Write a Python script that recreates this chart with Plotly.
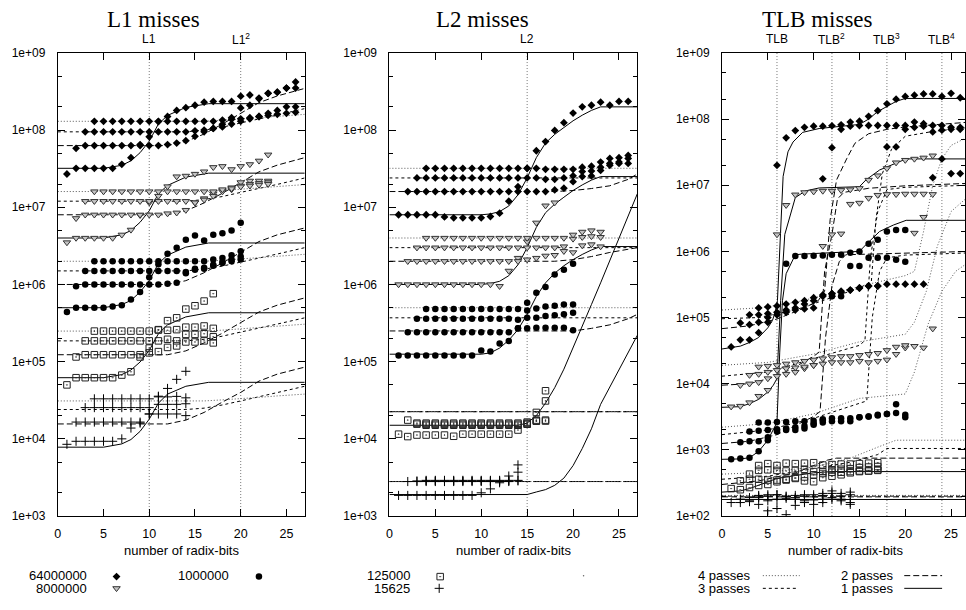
import plotly.graph_objects as go

W, H = 966, 610

SIZE_LABELS = ["64000000", "8000000", "1000000", "125000", "15625"]
PASS_LABELS = ["4 passes", "3 passes", "2 passes", "1 passes"]
X_TICKS = [0, 5, 10, 15, 20, 25]
PANEL_TITLES = ["L1 misses", "L2 misses", "TLB misses"]
X_TITLE = "number of radix-bits"

# ============ L1 misses: measured points (list per pass; pass p starts at x = p) ============
L1_64M = [
    [2.7e7, 3.2e7, 3.2e7, 3.2e7, 3.2e7, 3.2e7, 3.6e7, 4.4e7, 6.5e7, 8.2e7, 1.29e8, 1.5e8, 1.8e8, 1.95e8, 2.1e8, 2.3e8, 2.35e8, 2.35e8, 2.35e8, 2.75e8, 2.85e8, 2.55e8, 3.0e8, 3.1e8, 3.5e8, 4.2e8],
    [5.8e7, 6.3e7, 6.3e7, 6.3e7, 6.3e7, 6.3e7, 6.3e7, 6.3e7, 6.3e7, 6.3e7, 6.5e7, 6.8e7, 7.3e7, 8.3e7, 9.5e7, 1.05e8, 1.19e8, 1.45e8, 1.94e8, 2.1e8, 2.6e8, 3.0e8, 3.1e8, 3.5e8, 3.5e8],
    [9.5e7, 9.5e7, 9.5e7, 9.5e7, 9.5e7, 9.5e7, 9.5e7, 9.5e7, 9.5e7, 9.5e7, 9.5e7, 9.5e7, 9.8e7, 1.0e8, 1.05e8, 1.1e8, 1.2e8, 1.3e8, 1.4e8, 1.5e8, 1.65e8, 1.8e8, 2.0e8, 2.0e8],
    [1.3e8, 1.3e8, 1.3e8, 1.3e8, 1.3e8, 1.3e8, 1.3e8, 1.3e8, 1.3e8, 1.3e8, 1.3e8, 1.3e8, 1.3e8, 1.3e8, 1.35e8, 1.38e8, 1.4e8, 1.45e8, 1.5e8, 1.55e8, 1.6e8, 1.65e8, 1.7e8],
]
L1_8M = [
    [3.5e6, 4.0e6, 4.0e6, 4.0e6, 4.0e6, 4.0e6, 4.4e6, 5.1e6, 7.9e6, 1.15e7, 1.4e7, 1.86e7, 2.5e7, 2.55e7, 2.7e7, 2.9e7, 3.3e7, 3.4e7, 3.1e7, 3.4e7, 3.6e7, 4.0e7, 4.8e7],
    [7.2e6, 8.0e6, 8.0e6, 8.0e6, 8.0e6, 8.0e6, 8.0e6, 8.0e6, 8.0e6, 8.0e6, 8.3e6, 8.5e6, 9.2e6, 1.15e7, 1.3e7, 1.5e7, 1.65e7, 1.8e7, 2.1e7, 2.2e7, 2.2e7, 2.2e7],
    [1.2e7, 1.2e7, 1.2e7, 1.2e7, 1.2e7, 1.2e7, 1.2e7, 1.2e7, 1.2e7, 1.2e7, 1.2e7, 1.2e7, 1.15e7, 1.25e7, 1.4e7, 1.6e7, 1.7e7, 1.9e7, 2.0e7, 2.05e7, 2.1e7],
    [1.6e7, 1.6e7, 1.6e7, 1.6e7, 1.6e7, 1.6e7, 1.6e7, 1.6e7, 1.6e7, 1.6e7, 1.6e7, 1.6e7, 1.6e7, 1.6e7, 1.7e7, 1.75e7, 1.85e7, 1.9e7, 1.95e7, 2.0e7],
]
L1_1M = [
    [4.4e5, 5.0e5, 5.0e5, 5.0e5, 5.0e5, 5.2e5, 5.4e5, 6.4e5, 8.0e5, 1.24e6, 1.83e6, 2.5e6, 3.0e6, 3.8e6, 4.3e6, 3.7e6, 4.4e6, 4.6e6, 5.0e6, 6.3e6],
    [9.5e5, 1.0e6, 1.0e6, 1.0e6, 1.0e6, 1.0e6, 1.0e6, 1.0e6, 1.0e6, 1.0e6, 1.02e6, 1.05e6, 1.4e6, 1.55e6, 1.6e6, 1.75e6, 1.95e6, 2.0e6, 2.1e6],
    [1.5e6, 1.5e6, 1.5e6, 1.5e6, 1.5e6, 1.5e6, 1.5e6, 1.5e6, 1.5e6, 1.5e6, 1.5e6, 1.45e6, 1.6e6, 1.65e6, 1.8e6, 1.9e6, 2.1e6, 2.3e6],
    [2.0e6, 2.0e6, 2.0e6, 2.0e6, 2.0e6, 2.0e6, 2.0e6, 2.0e6, 2.0e6, 2.0e6, 2.0e6, 2.0e6, 2.0e6, 2.1e6, 2.2e6, 2.4e6, 2.7e6],
]
L1_125K = [
    [5.0e4, 6.2e4, 6.2e4, 6.2e4, 6.2e4, 6.2e4, 6.7e4, 7.4e4, 1.15e5, 1.5e5, 2.57e5, 3.4e5, 3.7e5, 4.8e5, 5.3e5, 6.1e5, 7.6e5],
    [1.15e5, 1.23e5, 1.23e5, 1.23e5, 1.23e5, 1.23e5, 1.23e5, 1.23e5, 1.3e5, 1.35e5, 1.53e5, 1.6e5, 1.8e5, 1.8e5, 1.86e5, 1.75e5],
    [1.86e5, 1.86e5, 1.86e5, 1.86e5, 1.86e5, 1.86e5, 1.86e5, 1.86e5, 1.86e5, 1.95e5, 1.86e5, 2.26e5, 2.26e5, 2.3e5, 2.1e5],
    [2.49e5, 2.49e5, 2.49e5, 2.49e5, 2.49e5, 2.49e5, 2.49e5, 2.6e5, 2.55e5, 2.6e5, 2.8e5, 2.8e5, 2.9e5, 2.7e5],
]
L1_15625 = [
    [8.5e3, 9.3e3, 9.3e3, 9.3e3, 9.3e3, 9.3e3, 1.0e4, 1.38e4, 1.6e4, 2.1e4, 3.57e4, 4.5e4, 5.9e4, 7.5e4],
    [1.65e4, 1.65e4, 1.65e4, 1.65e4, 1.65e4, 1.65e4, 1.65e4, 1.65e4, 2.1e4, 2.1e4, 2.1e4, 2.1e4, 2.0e4],
    [2.54e4, 2.54e4, 2.54e4, 2.54e4, 2.54e4, 2.54e4, 2.54e4, 2.54e4, 2.8e4, 2.8e4, 2.8e4, 2.85e4],
    [3.3e4, 3.3e4, 3.3e4, 3.3e4, 3.3e4, 3.3e4, 3.3e4, 3.5e4, 3.5e4, 3.55e4, 3.4e4],
]
# ---- L1 model curves (x knots per pass, y per size) ----
L1_MX = [
    [0, 5, 7, 8, 9, 10, 11, 12, 14, 16.5, 27],
    [0, 12, 14, 16, 18, 20, 22, 24, 27],
    [0, 14, 16, 18, 20, 22, 24, 27],
    [0, 16, 18, 20, 22, 24, 27],
]
L1_M64M = [
    [3.2e7, 3.2e7, 3.5e7, 4.0e7, 5.1e7, 7.2e7, 1.2e8, 1.55e8, 1.97e8, 2.2e8, 2.2e8],
    [6.3e7, 6.3e7, 7.1e7, 8.9e7, 1.2e8, 1.64e8, 2.27e8, 2.77e8, 3.47e8],
    [9.5e7, 9.5e7, 1.0e8, 1.09e8, 1.24e8, 1.38e8, 1.57e8, 1.9e8],
    [1.3e8, 1.3e8, 1.34e8, 1.39e8, 1.46e8, 1.52e8, 1.6e8],
]
L1_M8M = [
    [4.0e6, 4.0e6, 4.4e6, 5.0e6, 6.4e6, 9.0e6, 1.5e7, 1.92e7, 2.46e7, 2.77e7, 2.77e7],
    [8.0e6, 8.0e6, 9.0e6, 1.14e7, 1.52e7, 2.08e7, 2.88e7, 3.52e7, 4.4e7],
    [1.2e7, 1.2e7, 1.26e7, 1.38e7, 1.56e7, 1.74e7, 1.98e7, 2.4e7],
    [1.6e7, 1.6e7, 1.65e7, 1.71e7, 1.79e7, 1.87e7, 1.97e7],
]
L1_M1M = [
    [5.0e5, 5.0e5, 5.5e5, 6.2e5, 8.0e5, 1.12e6, 1.87e6, 2.4e6, 3.05e6, 3.45e6, 3.45e6],
    [1.0e6, 1.0e6, 1.12e6, 1.42e6, 1.9e6, 2.6e6, 3.6e6, 4.4e6, 5.4e6],
    [1.5e6, 1.5e6, 1.58e6, 1.73e6, 1.95e6, 2.18e6, 2.48e6, 3.0e6],
    [2.0e6, 2.0e6, 2.06e6, 2.14e6, 2.24e6, 2.34e6, 2.46e6],
]
L1_M125K = [
    [6.2e4, 6.2e4, 6.8e4, 7.8e4, 9.9e4, 1.4e5, 2.3e5, 3.0e5, 3.8e5, 4.3e5, 4.3e5],
    [1.23e5, 1.23e5, 1.38e5, 1.75e5, 2.34e5, 3.2e5, 4.4e5, 5.4e5, 6.7e5],
    [1.86e5, 1.86e5, 1.95e5, 2.14e5, 2.42e5, 2.7e5, 3.07e5, 3.7e5],
    [2.49e5, 2.49e5, 2.56e5, 2.66e5, 2.79e5, 2.91e5, 3.06e5],
]
L1_M15625 = [
    [7.8e3, 7.8e3, 8.6e3, 9.8e3, 1.25e4, 1.8e4, 2.9e4, 3.8e4, 4.8e4, 5.4e4, 5.4e4],
    [1.56e4, 1.56e4, 1.75e4, 2.2e4, 3.0e4, 4.0e4, 5.6e4, 6.9e4, 8.5e4],
    [2.4e4, 2.4e4, 2.5e4, 2.75e4, 3.1e4, 3.5e4, 4.0e4, 4.8e4],
    [3.1e4, 3.1e4, 3.2e4, 3.3e4, 3.45e4, 3.6e4, 3.8e4],
]

# ============ L2 misses ============
L2_64M = [
    [8e6, 8e6, 8e6, 8e6, 8e6, 7.5e6, 7.3e6, 7.3e6, 7.3e6, 7.3e6, 7.6e6, 8.4e6, 1.2e7, 1.85e7, 3.2e7, 5.4e7, 7.1e7, 9.9e7, 1.25e8, 1.66e8, 2.0e8, 2.1e8, 2.3e8, 2.1e8, 2.35e8, 2.35e8],
    [1.6e7, 1.6e7, 1.6e7, 1.6e7, 1.6e7, 1.6e7, 1.6e7, 1.6e7, 1.6e7, 1.6e7, 1.6e7, 1.6e7, 1.6e7, 1.6e7, 1.6e7, 1.6e7, 1.68e7, 1.77e7, 2.15e7, 2.5e7, 2.55e7, 3.0e7, 3.5e7, 3.7e7, 3.7e7],
    [2.4e7, 2.4e7, 2.4e7, 2.4e7, 2.4e7, 2.4e7, 2.4e7, 2.4e7, 2.4e7, 2.4e7, 2.4e7, 2.4e7, 2.4e7, 2.4e7, 2.3e7, 2.3e7, 2.4e7, 2.56e7, 2.9e7, 2.95e7, 3.3e7, 3.7e7, 3.85e7, 4.3e7],
    [3.2e7, 3.2e7, 3.2e7, 3.2e7, 3.2e7, 3.2e7, 3.2e7, 3.2e7, 3.2e7, 3.2e7, 3.2e7, 3.2e7, 3.2e7, 3.1e7, 3.1e7, 3.1e7, 3.1e7, 3.3e7, 3.4e7, 3.85e7, 4.3e7, 4.4e7, 4.7e7],
]
L2_8M = [
    [1e6, 1e6, 1e6, 1e6, 1e6, 1e6, 1e6, 1e6, 1e6, 1e6, 1e6, 9.5e5, 1.5e6, 2.2e6, 3.6e6, 6.3e6, 1.05e7, 1.15e7],
    [2e6, 2e6, 2e6, 2e6, 2e6, 2e6, 2e6, 2e6, 2e6, 2e6, 2e6, 2e6, 2.0e6, 2.1e6, 2.2e6, 2.35e6, 2.4e6, 2.7e6, 2.6e6, 3.2e6, 3.3e6, 3.1e6],
    [3e6, 3e6, 3e6, 3e6, 3e6, 3e6, 3e6, 3e6, 3e6, 3e6, 3e6, 3e6, 3e6, 3.0e6, 3.0e6, 3.0e6, 3.1e6, 3.9e6, 4.1e6, 4.2e6, 4.1e6],
    [4e6, 4e6, 4e6, 4e6, 4e6, 4e6, 4e6, 4e6, 4e6, 4e6, 4e6, 4e6, 4e6, 4.0e6, 4.0e6, 4.0e6, 4.4e6, 4.8e6, 5.0e6, 4.8e6],
]
L2_1M = [
    [1.2e5, 1.2e5, 1.2e5, 1.2e5, 1.2e5, 1.2e5, 1.2e5, 1.2e5, 1.2e5, 1.4e5, 1.35e5, 1.72e5, 1.85e5, 2.7e5, 4.6e5, 7.8e5, 9.3e5, 1.35e6, 1.55e6, 1.85e6],
    [2.4e5, 2.4e5, 2.4e5, 2.4e5, 2.4e5, 2.4e5, 2.4e5, 2.4e5, 2.4e5, 2.4e5, 2.4e5, 2.4e5, 2.7e5, 2.7e5, 2.75e5, 2.75e5, 2.75e5, 2.75e5, 2.55e5],
    [3.6e5, 3.6e5, 3.6e5, 3.6e5, 3.6e5, 3.6e5, 3.6e5, 3.6e5, 3.6e5, 3.6e5, 3.6e5, 3.5e5, 3.7e5, 3.7e5, 3.9e5, 4.0e5, 4.1e5, 4.3e5],
    [4.8e5, 4.8e5, 4.8e5, 4.8e5, 4.8e5, 4.8e5, 4.8e5, 4.8e5, 4.8e5, 4.8e5, 4.8e5, 5.8e5, 4.9e5, 5.2e5, 5.3e5, 5.5e5, 5.5e5],
]
L2_125K = [
    [1.15e4, 1.07e4, 1.12e4, 1.12e4, 1.12e4, 1.12e4, 1.08e4, 1.15e4, 1.15e4, 1.15e4, 1.15e4, 1.15e4, 1.15e4, 1.3e4, 1.55e4, 2.2e4, 4.2e4],
    [1.75e4, 1.6e4, 1.6e4, 1.6e4, 1.6e4, 1.6e4, 1.6e4, 1.6e4, 1.6e4, 1.6e4, 1.6e4, 1.6e4, 1.6e4, 1.65e4, 1.75e4, 3.1e4],
    [1.55e4, 1.55e4, 1.55e4, 1.55e4, 1.55e4, 1.55e4, 1.55e4, 1.55e4, 1.55e4, 1.55e4, 1.55e4, 1.55e4, 1.6e4, 1.7e4, 1.75e4],
    [1.5e4, 1.5e4, 1.5e4, 1.5e4, 1.5e4, 1.5e4, 1.5e4, 1.5e4, 1.5e4, 1.5e4, 1.5e4, 1.55e4, 1.7e4, 1.7e4],
]
L2_15625 = [
    [1.85e3, 1.85e3, 1.85e3, 1.85e3, 1.85e3, 1.85e3, 1.85e3, 1.85e3, 1.85e3, 2.0e3, 2.25e3, 2.7e3, 3.3e3, 4.6e3],
    [2.8e3, 2.8e3, 2.8e3, 2.8e3, 2.8e3, 2.8e3, 2.8e3, 2.8e3, 2.8e3, 2.8e3, 2.8e3, 2.8e3, 3.7e3],
    [2.85e3, 2.85e3, 2.85e3, 2.85e3, 2.85e3, 2.85e3, 2.85e3, 2.85e3, 2.85e3, 2.85e3, 2.85e3, 2.85e3],
    [2.9e3, 2.9e3, 2.9e3, 2.9e3, 2.9e3, 2.9e3, 2.9e3, 2.9e3, 2.9e3, 2.9e3, 2.9e3],
]
L2_MX = [
    [0, 10, 11, 12, 13, 14, 15, 16, 17, 18, 19, 20, 21, 22, 23, 27],
    [0, 16, 18, 20, 22, 24, 26, 27],
    [0, 27],
    [0, 27],
]
L2_M64M = [
    [8e6, 8e6, 8.2e6, 8.8e6, 1.04e7, 1.45e7, 2.4e7, 4.4e7, 6.8e7, 8.8e7, 1.08e8, 1.32e8, 1.56e8, 1.8e8, 2.0e8, 2.0e8],
    [1.6e7, 1.6e7, 1.6e7, 1.65e7, 1.75e7, 1.9e7, 2.3e7, 2.7e7],
    [2.4e7, 2.4e7],
    [3.2e7, 3.2e7],
]
L2_M8M = [
    [1e6, 1e6, 1.03e6, 1.1e6, 1.3e6, 1.8e6, 3.0e6, 5.5e6, 8.5e6, 1.1e7, 1.35e7, 1.65e7, 1.95e7, 2.25e7, 2.5e7, 2.5e7],
    [2.0e6, 2.0e6, 2.0e6, 2.1e6, 2.3e6, 2.6e6, 2.85e6, 3.0e6],
    [3.0e6, 3.0e6],
    [4.0e6, 4.0e6],
]
L2_M1M = [
    [1.25e5, 1.25e5, 1.3e5, 1.5e5, 1.9e5, 2.6e5, 4.1e5, 7.0e5, 1.05e6, 1.4e6, 1.75e6, 2.1e6, 2.45e6, 2.8e6, 3.1e6, 3.1e6],
    [2.5e5, 2.5e5, 2.5e5, 2.5e5, 2.7e5, 3.0e5, 3.6e5, 4.1e5],
    [3.7e5, 3.7e5],
    [5.0e5, 5.0e5],
]
L2_M125K = [
    [1.5e4, 1.5e4, 1.5e4, 1.5e4, 1.5e4, 1.5e4, 1.6e4, 2.0e4, 2.9e4, 4.6e4, 8.0e4, 1.5e5, 2.9e5, 5.5e5, 1.05e6, 1.5e7],
    [2.25e4, 2.25e4, 2.25e4, 2.25e4, 2.25e4, 2.25e4, 2.25e4, 2.25e4],
    [2.25e4, 2.25e4],
    [2.25e4, 2.25e4],
]
L2_M15625 = [
    [1.9e3, 1.9e3, 1.9e3, 1.9e3, 1.9e3, 1.9e3, 1.9e3, 2.05e3, 2.2e3, 2.5e3, 3.1e3, 4.5e3, 7.5e3, 1.35e4, 2.8e4, 2.2e5],
    [2.8e3, 2.8e3, 2.8e3, 2.8e3, 2.8e3, 2.8e3, 2.8e3, 2.8e3],
    [2.8e3, 2.8e3],
    [2.8e3, 2.8e3],
]

# ============ TLB misses ============
TLB_64M = [
    [3.6e4, 4.6e4, 4.6e4, 5.9e4, 8.5e4, 2.0e7, 5.2e7, 6.7e7, 7.5e7, 7.8e7, 7.8e7, 7.9e7, 8.2e7, 9.0e7, 9.3e7, 1.1e8, 1.34e8, 1.7e8, 2.0e8, 2.2e8, 2.3e8, 2.4e8, 2.4e8, 2.2e8, 2.45e8, 2.1e8],
    [8.3e4, 7.8e4, 8.5e4, 1.0e5, 1.1e5, 1.2e5, 1.3e5, 1.35e5, 1.4e5, 1.25e7, 3.7e7, 7.0e7, 7.8e7, 8.0e7, 8.0e7, 8.0e7, 8.0e7, 8.0e7, 8.0e7, 9.0e7, 8.5e7, 8.0e7, 8.0e7, 7.5e7, 7.5e7],
    [1.1e5, 1.1e5, 1.15e5, 1.2e5, 1.3e5, 1.4e5, 1.6e5, 1.8e5, 2.2e5, 2.3e5, 2.5e5, 2.6e5, 2.8e5, 3.0e5, 3.0e5, 3.8e7, 3.8e7, 7.0e7, 7.5e7, 7.8e7, 6.4e7, 6.8e7, 7.0e7, 7.0e7],
    [1.4e5, 1.45e5, 1.5e5, 1.6e5, 1.7e5, 1.8e5, 2.0e5, 2.1e5, 2.3e5, 2.4e5, 2.6e5, 2.8e5, 3.0e5, 3.0e5, 3.2e5, 3.2e5, 3.2e5, 3.2e5, 3.2e5, 1.3e7, 2.5e7, 1.5e7, 1.5e7],
]
TLB_8M = [
    [4.5e3, 4.6e3, 5.2e3, 6.5e3, 8.0e3, 1.8e6, 5.0e6, 7.2e6, 7.8e6, 8.0e6, 8.2e6, 8.2e6, 8.4e6, 8.6e6, 9.0e6, 1.2e7, 1.4e7, 1.8e7, 2.2e7, 2.4e7, 2.5e7, 2.6e7, 2.8e7],
    [9.5e3, 1.0e4, 1.05e4, 1.2e4, 1.3e4, 1.4e4, 1.5e4, 1.7e4, 1.9e4, 1.2e6, 1.8e6, 1.85e6, 5.2e6, 5.4e6, 6.4e6, 7.1e6, 7.3e6, 7.3e6, 7.4e6, 7.4e6, 7.4e6, 7.3e6],
    [1.35e4, 1.4e4, 1.5e4, 1.6e4, 1.7e4, 1.75e4, 1.8e4, 1.9e4, 2.0e4, 2.1e4, 2.1e4, 2.1e4, 2.2e4, 2.1e4, 2.2e4, 2.3e4, 2.8e4, 3.5e4, 1.9e6, 3.3e6],
    [1.8e4, 1.85e4, 1.9e4, 2.0e4, 2.1e4, 2.2e4, 2.3e4, 2.4e4, 2.5e4, 2.6e4, 2.6e4, 2.7e4, 2.8e4, 2.9e4, 3.2e4, 3.6e4, 3.8e4, 3.7e4, 3.5e4, 6.8e4],
]
TLB_1M = [
    [7.2e2, 7.4e2, 7.6e2, 9.5e2, 1.4e3, 2.0e3, 6.5e5, 8.5e5, 8.5e5, 8.6e5, 8.7e5, 8.9e5, 8.9e5, 9.5e5, 1.0e6, 1.3e6, 1.5e6, 2.0e6, 2.1e6, 2.1e6],
    [1.3e3, 1.35e3, 1.35e3, 1.55e3, 1.9e3, 2.0e3, 2.0e3, 2.1e3, 2.4e3, 2.8e3, 2.1e5, 2.1e5, 6.0e5, 6.0e5, 8.0e5, 8.0e5, 8.0e5, 7.5e5, 7.0e5],
    [1.9e3, 1.95e3, 2.0e3, 2.05e3, 2.1e3, 2.2e3, 2.3e3, 2.5e3, 2.6e3, 2.7e3, 2.7e3, 2.7e3, 3.1e3, 3.2e3, 3.4e3, 3.5e3, 3.6e3, 3.4e3],
    [2.6e3, 2.6e3, 2.65e3, 2.65e3, 2.7e3, 2.7e3, 2.75e3, 2.9e3, 3.0e3, 3.0e3, 3.0e3, 3.1e3, 3.2e3, 3.3e3, 3.5e3, 4.9e3, 3.1e3],
]
TLB_125K = [
    [2.6e2, 2.5e2, 2.7e2, 2.9e2, 3.0e2, 3.3e2, 3.5e2, 3.7e2, 3.9e2, 4.2e2, 4.4e2, 4.6e2, 4.6e2, 4.7e2, 4.8e2, 4.8e2, 4.9e2],
    [3.4e2, 3.6e2, 3.6e2, 3.5e2, 3.5e2, 3.6e2, 3.8e2, 3.4e2, 3.3e2, 3.8e2, 4.0e2, 4.2e2, 4.5e2, 4.7e2, 4.8e2, 5.0e2],
    [4.3e2, 4.9e2, 5.0e2, 4.9e2, 4.8e2, 4.9e2, 5.1e2, 4.7e2, 4.7e2, 5.0e2, 5.1e2, 5.2e2, 5.4e2, 5.5e2, 5.6e2],
    [5.8e2, 6.2e2, 5.8e2, 6.3e2, 6.2e2, 6.3e2, 6.4e2, 5.9e2, 6.0e2, 6.1e2, 6.1e2, 6.2e2, 6.3e2, 6.4e2],
]
TLB_15625 = [
    [1.6e2, 1.6e2, 1.65e2, 1.5e2, 1.2e2, 1.3e2, 1.05e2, 1.45e2, 1.6e2, 1.5e2, 1.6e2, 1.8e2, 1.7e2, 1.5e2],
    [1.8e2, 1.7e2, 1.9e2, 1.7e2, 1.8e2, 1.85e2, 1.8e2, 1.7e2, 1.75e2, 1.8e2, 1.9e2, 1.8e2, 1.6e2],
    [1.9e2, 2.0e2, 2.0e2, 2.1e2, 1.95e2, 1.9e2, 2.0e2, 1.95e2, 2.05e2, 2.2e2, 2.0e2, 2.1e2],
    [2.05e2, 2.1e2, 2.1e2, 2.0e2, 2.05e2, 2.1e2, 2.1e2, 2.2e2, 2.4e2, 2.2e2, 2.3e2],
]
# TLB model curves: per size, (x knots, y values) per pass
TLB_MX_64M = [
    [0, 1, 2, 3, 4, 5, 5.5, 5.8, 6.05, 6.67, 7.2, 7.75, 8.8, 10.6, 13, 15, 16, 17, 18, 19, 20, 27],
    [0, 3, 6, 9, 10.5, 11.2, 11.8, 12.5, 13.6, 14.5, 16, 18, 20, 24, 27],
    [0, 4, 8, 12, 15, 16.3, 16.8, 17.5, 18.5, 20, 23, 27],
    [0, 4, 8, 12, 16, 20, 21, 22, 23, 24, 25, 27],
]
TLB_MY_64M = [
    [3.35e4, 3.5e4, 3.7e4, 4.2e4, 5.0e4, 7.0e4, 9.0e4, 1.2e5, 1.8e5, 1.36e7, 3.2e7, 4.5e7, 6.3e7, 7.2e7, 7.8e7, 8.3e7, 1.0e8, 1.3e8, 1.55e8, 1.85e8, 2.05e8, 2.05e8],
    [6.8e4, 7.5e4, 9.5e4, 1.4e5, 1.8e5, 2.5e5, 3.0e6, 1.2e7, 2.5e7, 4.3e7, 6.0e7, 7.0e7, 7.6e7, 8.4e7, 9.0e7],
    [9.6e4, 1.0e5, 1.3e5, 2.0e5, 2.8e5, 3.5e5, 3.0e6, 1.5e7, 3.5e7, 5.5e7, 6.5e7, 7.5e7],
    [1.3e5, 1.4e5, 1.7e5, 2.3e5, 3.2e5, 4.3e5, 5.0e5, 2.0e6, 1.0e7, 2.5e7, 4.0e7, 5.5e7],
]
TLB_MX_8M = [
    [0, 1, 2, 3, 4, 5, 5.6, 6.0, 6.4, 6.85, 8, 9.1, 10.6, 15, 15.7, 17.2, 18.7, 20.1, 27],
    [0, 3, 6, 8, 10, 10.6, 11.2, 12, 12.6, 13.3, 16, 20, 27],
    [0, 5, 10, 15, 15.6, 16.2, 17, 18, 20, 27],
    [0, 5, 10, 15, 20, 21, 22.3, 23.5, 25, 27],
]
TLB_MY_8M = [
    [4.4e3, 4.4e3, 4.5e3, 5.0e3, 5.8e3, 7.5e3, 9.5e3, 1.2e4, 1.8e5, 1.8e6, 6.5e6, 8.2e6, 9.1e6, 9.5e6, 1.2e7, 1.7e7, 2.1e7, 2.5e7, 2.5e7],
    [9.5e3, 1.0e4, 1.3e4, 1.8e4, 2.6e4, 3.0e4, 5.0e5, 1.8e6, 6.2e6, 7.8e6, 9.0e6, 9.8e6, 1.07e7],
    [1.3e4, 1.5e4, 2.4e4, 3.8e4, 4.5e4, 8.0e5, 4.0e6, 8.6e6, 9.3e6, 1.0e7],
    [1.9e4, 2.1e4, 2.8e4, 4.3e4, 5.6e4, 8.5e4, 2.5e5, 1.2e6, 4.0e6, 7.0e6],
]
TLB_MX_1M = [
    [0, 2, 3, 4, 5, 5.6, 6.0, 6.3, 6.6, 7.0, 8.0, 8.7, 15, 15.7, 17.2, 18.7, 20.1, 27],
    [0, 3, 6, 8, 10, 10.7, 11.3, 12, 12.8, 13.5, 20, 27],
    [0, 5, 10, 15, 15.8, 16.4, 17.2, 18, 20, 27],
    [0, 5, 10, 15, 20, 21, 22.5, 24, 25.5, 27],
]
TLB_MY_1M = [
    [7.2e2, 7.3e2, 7.6e2, 9.5e2, 1.4e3, 2.0e3, 2.6e3, 3.0e4, 1.8e5, 4.6e5, 8.9e5, 9.1e5, 1.0e6, 1.26e6, 2.0e6, 2.5e6, 2.95e6, 2.95e6],
    [1.25e3, 1.35e3, 1.7e3, 2.3e3, 3.2e3, 3.8e3, 5.0e4, 3.0e5, 7.0e5, 8.9e5, 9.5e5, 1.0e6],
    [1.7e3, 2.0e3, 3.0e3, 5.0e3, 5.5e3, 1.0e5, 5.0e5, 8.0e5, 8.8e5, 9.5e5],
    [2.2e3, 2.5e3, 3.5e3, 6.0e3, 7.0e3, 1.5e4, 8.0e4, 2.5e5, 5.0e5, 7.0e5],
]
TLB_MX_125K = [
    [0, 2, 3, 4, 5, 6, 8, 10, 12, 16, 27],
    [0, 4, 8, 10, 11.5, 12.5, 27],
    [0, 5, 10, 14, 17, 18, 27],
    [0, 5, 10, 14, 17, 19, 27],
]
TLB_MY_125K = [
    [2.3e2, 2.4e2, 2.6e2, 2.9e2, 3.3e2, 3.7e2, 4.1e2, 4.5e2, 4.7e2, 4.7e2, 4.7e2],
    [3.0e2, 3.4e2, 4.5e2, 5.8e2, 7.0e2, 7.5e2, 7.5e2],
    [3.6e2, 4.0e2, 5.2e2, 6.5e2, 8.5e2, 1.05e3, 1.05e3],
    [4.3e2, 4.6e2, 5.5e2, 7.5e2, 1.1e3, 1.4e3, 1.4e3],
]
TLB_MX_15625 = [[0, 27], [0, 27], [0, 27], [0, 27]]
TLB_MY_15625 = [[1.78e2, 1.78e2], [1.95e2, 1.95e2], [2.0e2, 2.0e2], [2.05e2, 2.05e2]]

# reference marks on top
L1_MARKS = [(10, "L1"), (20, "L1<sup>2</sup>")]
L2_MARKS = [(15, "L2")]
TLB_MARKS = [(6, "TLB"), (12, "TLB<sup>2</sup>"), (18, "TLB<sup>3</sup>"), (24, "TLB<sup>4</sup>")]

# ----------------------------------------------------------------------------------
MARKERS = [
    dict(symbol="diamond", size=6, color="black", line=dict(width=0)),
    dict(symbol="triangle-down", size=6.5, color="#c4c4c4", line=dict(color="#333", width=1)),
    dict(symbol="circle", size=6.5, color="black", line=dict(width=0)),
    dict(symbol="square-open-dot", size=6.5, color="#222", line=dict(color="#222", width=1)),
    dict(symbol="cross-thin", size=6.5, color="black", line=dict(color="black", width=1)),
]
LINE_STYLES = [
    dict(color="black", width=1, dash="solid"),
    dict(color="black", width=1, dash="6px,3px"),
    dict(color="black", width=1, dash="3px,3px"),
    dict(color="#555", width=1, dash="1px,2px"),
]

fig = go.Figure()

PX_L = [55, 388, 722]
PX_R = [303, 637, 966]
PLOT_TOP, PLOT_BOT = 47, 521
xr = [[0, 27], [0, 27], [0, (966 - 722) / 9.2]]
yr = [[3, 9], [3, 9], [2, 9]]


def add_model(xa, ya, xs_list, ys_list):
    for p in range(4):
        fig.add_trace(go.Scatter(x=xs_list[p], y=ys_list[p], mode="lines", line=LINE_STYLES[p],
                                 xaxis=xa, yaxis=ya, showlegend=False, hoverinfo="skip"))


def add_points(xa, ya, series, mk):
    for p, ys in enumerate(series, start=1):
        xs = list(range(p, p + len(ys)))
        fig.add_trace(go.Scatter(x=xs, y=ys, mode="markers", marker=mk,
                                 xaxis=xa, yaxis=ya, showlegend=False, hoverinfo="skip"))


# Panel 1
for mx in [L1_M64M, L1_M8M, L1_M1M, L1_M125K, L1_M15625]:
    add_model("x", "y", L1_MX, mx)
for s, pts in enumerate([L1_64M, L1_8M, L1_1M, L1_125K, L1_15625]):
    add_points("x", "y", pts, MARKERS[s])
# Panel 2
for mx in [L2_M64M, L2_M8M, L2_M1M, L2_M125K, L2_M15625]:
    add_model("x2", "y2", L2_MX, mx)
for s, pts in enumerate([L2_64M, L2_8M, L2_1M, L2_125K, L2_15625]):
    add_points("x2", "y2", pts, MARKERS[s])
# Panel 3
for mxs, mys in [(TLB_MX_64M, TLB_MY_64M), (TLB_MX_8M, TLB_MY_8M), (TLB_MX_1M, TLB_MY_1M),
                 (TLB_MX_125K, TLB_MY_125K), (TLB_MX_15625, TLB_MY_15625)]:
    add_model("x3", "y3", mxs, mys)
for s, pts in enumerate([TLB_64M, TLB_8M, TLB_1M, TLB_125K, TLB_15625]):
    add_points("x3", "y3", pts, MARKERS[s])

# legend samples on an overlay pixel axis
LEG_MARK = [(0, 114, 583), (1, 114, 595), (2, 257, 583), (3, 439, 583), (4, 438, 595)]
for s, lx, ly in LEG_MARK:
    fig.add_trace(go.Scatter(x=[lx], y=[ly], mode="markers", marker=MARKERS[s], xaxis="x4", yaxis="y4",
                             showlegend=False, hoverinfo="skip"))
fig.add_trace(go.Scatter(x=[583], y=[582], mode="markers", marker=dict(size=1.5, color="#666"),
                         xaxis="x4", yaxis="y4", showlegend=False, hoverinfo="skip"))

annotations = []
shapes = []
FONT = "Liberation Sans, Arial, sans-serif"

leg_text = [("64000000", 86, 582), ("8000000", 86, 595), ("1000000", 229, 582),
            ("125000", 411, 582), ("15625", 411, 595)]
for t, lx, ly in leg_text:
    annotations.append(dict(x=lx, y=ly, xref="x4", yref="y4", text=t, showarrow=False, xanchor="right",
                            yanchor="middle", font=dict(size=13, family=FONT, color="black")))
pass_leg = [(0, 753, 582, 763, 800), (1, 753, 595, 763, 797), (2, 897, 582, 905, 943), (3, 897, 595, 905, 943)]
for i, tx, ty, l0, l1 in pass_leg:
    annotations.append(dict(x=tx, y=ty, xref="x4", yref="y4", text=PASS_LABELS[i], showarrow=False,
                            xanchor="right", yanchor="middle", font=dict(size=13, family=FONT, color="black")))
    st = LINE_STYLES[3 - i]
    shapes.append(dict(type="line", xref="x4", yref="y4", x0=l0, x1=l1, y0=ty, y1=ty,
                       line=dict(color=st["color"], width=1, dash=st["dash"])))

# titles
for k, cx in enumerate([151, 481, 818]):
    annotations.append(dict(x=cx / W, y=1 - 13 / H, xref="paper", yref="paper", text=PANEL_TITLES[k],
                            showarrow=False, xanchor="center", yanchor="middle",
                            font=dict(size=23, family="Liberation Serif, Times New Roman, serif", color="black")))
# x titles
for k in range(3):
    cx = (PX_L[k] + (PX_R[k] if k < 2 else 970)) / 2
    annotations.append(dict(x=cx / W, y=1 - 556 / H, xref="paper", yref="paper", text=X_TITLE,
                            showarrow=False, xanchor="center", yanchor="middle",
                            font=dict(size=13, family=FONT, color="black")))

# reference marks
for ax, marks in [("x", L1_MARKS), ("x2", L2_MARKS), ("x3", TLB_MARKS)]:
    for xv, t in marks:
        annotations.append(dict(x=xv, y=1 - 33 / H, xref=ax, yref="paper", text=t, showarrow=False,
                                xanchor="center", yanchor="middle", font=dict(size=12, family=FONT, color="black")))
        shapes.append(dict(type="line", xref=ax, yref="paper", x0=xv, x1=xv,
                           y0=1 - PLOT_BOT / H, y1=1 - PLOT_TOP / H,
                           line=dict(color="#777", width=1, dash="1px,2px"), layer="below"))

layout = dict(width=W, height=H, margin=dict(l=0, r=0, t=0, b=0), paper_bgcolor="white",
              plot_bgcolor="rgba(0,0,0,0)", showlegend=False, font=dict(family=FONT, size=12, color="black"),
              annotations=annotations, shapes=shapes)

ydom = [1 - PLOT_BOT / H, 1 - PLOT_TOP / H]
for k in range(3):
    sx = "" if k == 0 else str(k + 1)
    lo, hi = yr[k]
    majors = [10 ** e for e in range(lo, hi + 1)]
    minors = [m * 10 ** e for e in range(lo, hi) for m in (2, 5)]
    layout["xaxis" + sx] = dict(domain=[PX_L[k] / W, PX_R[k] / W], range=xr[k], anchor="y" + sx,
                                tickvals=X_TICKS, ticks="inside", ticklen=7, tickcolor="black",
                                showline=True, linecolor="black", linewidth=1, mirror="allticks",
                                showgrid=False, zeroline=False, tickfont=dict(size=12.5, family=FONT),
                                ticklabelstandoff=6, fixedrange=True)
    layout["yaxis" + sx] = dict(domain=ydom, type="log", range=[lo, hi], anchor="x" + sx,
                                tickvals=majors, ticktext=["1e+%02d" % e for e in range(lo, hi + 1)],
                                ticks="inside", ticklen=7, tickcolor="black",
                                minor=dict(tickmode="array", tickvals=minors, ticks="inside", ticklen=4,
                                           tickcolor="black", showgrid=False),
                                showline=True, linecolor="black", linewidth=1, mirror="allticks",
                                showgrid=False, zeroline=False, tickfont=dict(size=12, family=FONT),
                                ticklabelstandoff=9, fixedrange=True)
layout["xaxis4"] = dict(domain=[0, 1], range=[0, W], anchor="y4", visible=False, fixedrange=True)
layout["yaxis4"] = dict(domain=[0, 1], range=[H, 0], anchor="x4", visible=False, fixedrange=True)

fig.update_layout(**layout)
fig.write_html("out.html")
